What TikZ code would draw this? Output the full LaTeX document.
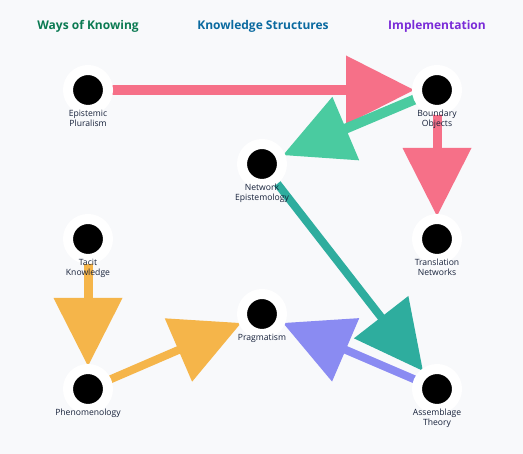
\documentclass[tikz,border=0pt]{standalone}
\usepackage{fontspec}
\setmainfont{Open Sans}
\usetikzlibrary{positioning, calc}
\definecolor{pagebg}{HTML}{F8F9FB}
\definecolor{inkblue}{HTML}{16213A}
\definecolor{rosered}{HTML}{F67088}
\definecolor{mintgreen}{HTML}{4ACBA0}
\definecolor{deepteal}{HTML}{2EAD9E}
\definecolor{amberor}{HTML}{F5B54A}
\definecolor{periwink}{HTML}{8A8BF2}
\definecolor{knowgreen}{HTML}{0B7A52}
\definecolor{structblue}{HTML}{0A6AA0}
\definecolor{implpurple}{HTML}{7A2BD8}

\pgfdeclarelayer{bg}
\pgfdeclarelayer{edges}
\pgfsetlayers{bg,edges,main}

% arrow with a big triangular head: colour, from, to, line width
\newcommand{\linkarrow}[4]{%
  \path ($(#3.center)!23pt!(#2.center)$) coordinate (tip)
        ($(#3.center)!91pt!(#2.center)$) coordinate (base);
  \draw[#1, line width=#4] (#2.center) -- ($(#3.center)!85pt!(#2.center)$);
  \fill[#1] (tip) -- ($(base)!34.5pt!90:(tip)$) -- ($(base)!34.5pt!-90:(tip)$) -- cycle;
}

\begin{document}
\begin{tikzpicture}[
  x=1pt, y=-1pt,
  hub/.style={circle, fill=black, draw=white, line width=10pt,
    minimum size=40pt, inner sep=0pt},
  hublbl/.style={font=\fontsize{8.6}{10}\selectfont, text=inkblue,
    align=center, inner sep=0pt, anchor=north},
  coltitle/.style={font=\fontsize{12}{14}\selectfont\bfseries},
]

% Background
\begin{pgfonlayer}{bg}
\fill[pagebg] (0,0) rectangle (523,454);
\end{pgfonlayer}

% === Column titles ===
\node[coltitle, text=knowgreen] (t-know) at (88,26) {Ways of Knowing};
\node[coltitle, text=structblue] (t-struct) at (263,26) {Knowledge Structures};
\node[coltitle, text=implpurple] (t-impl) at (437,26) {Implementation};

% === Nodes ===
\node[hub] (plural) at (88,90) {};
\node[hub] (bound) at (437,90) {};
\node[hub] (netep) at (262,164) {};
\node[hub] (tacit) at (88,239) {};
\node[hub] (transl) at (437,239) {};
\node[hub] (pragm) at (262,314) {};
\node[hub] (phenom) at (88,389) {};
\node[hub] (assem) at (437,389) {};

% === Labels ===
\node[hublbl, below=-5.5pt of plural] {Epistemic\\Pluralism};
\node[hublbl, below=-5.5pt of bound] {Boundary\\Objects};
\node[hublbl, below=-5.5pt of netep] {Network\\Epistemology};
\node[hublbl, below=-5.5pt of tacit] {Tacit\\Knowledge};
\node[hublbl, below=-5.5pt of transl] {Translation\\Networks};
\node[hublbl, below=-5.5pt of pragm] {Pragmatism};
\node[hublbl, below=-5.5pt of phenom] {Phenomenology};
\node[hublbl, below=-5.5pt of assem] {Assemblage\\Theory};

% === Connectors ===
\begin{pgfonlayer}{edges}
\linkarrow{rosered}{plural}{bound}{10pt}
\linkarrow{mintgreen}{bound}{netep}{10pt}
\linkarrow{rosered}{bound}{transl}{9pt}
\linkarrow{amberor}{tacit}{phenom}{9pt}
\linkarrow{amberor}{phenom}{pragm}{8pt}
\linkarrow{periwink}{assem}{pragm}{8pt}
\linkarrow{deepteal}{netep}{assem}{8pt}
\end{pgfonlayer}

\end{tikzpicture}
\end{document}
